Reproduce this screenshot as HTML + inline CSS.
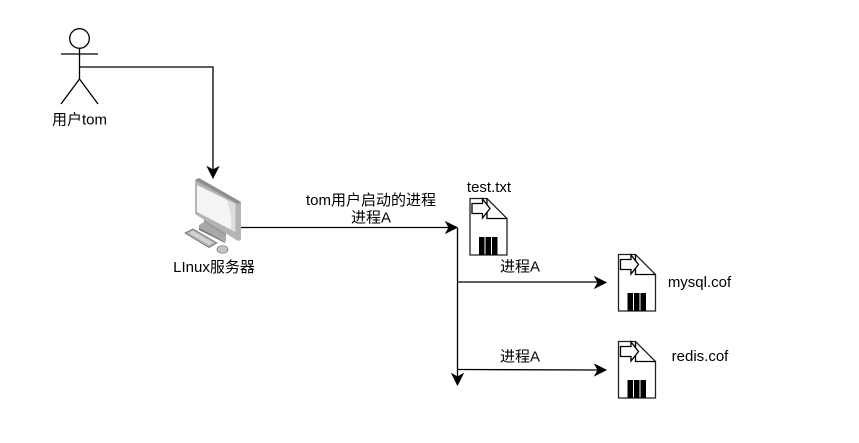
<!DOCTYPE html>
<html>
<head>
<meta charset="utf-8">
<style>
html,body{margin:0;padding:0;background:#fff;width:859px;height:443px;overflow:hidden}
svg{display:block}
text{font-family:"Liberation Sans","Noto Sans CJK SC",sans-serif;font-size:15px;fill:#000;text-anchor:middle}
</style>
</head>
<body>
<svg width="859" height="443" viewBox="0 0 859 443" xmlns="http://www.w3.org/2000/svg">
<defs>
<g id="doc" fill="none" stroke="#000" stroke-width="1.3">
  <path d="M0.5 0.5H17.5L37.5 20.5V57H0.5Z" fill="#fff" stroke="#222"/>
  <path d="M17.5 0.5V20.5H37.5"/>
  <path d="M2.5 5.5H13V1L20.5 10.5L13 20V15.5H2.5Z" fill="#fff"/>
  <rect x="9.5" y="39" width="5.5" height="18" fill="#000" stroke="none"/>
  <rect x="16" y="39" width="5.5" height="18" fill="#000" stroke="none"/>
  <rect x="22.5" y="39" width="5.5" height="18" fill="#000" stroke="none"/>
</g>
</defs>

<!-- actor -->
<g fill="none" stroke="#000" stroke-width="1.3">
  <circle cx="79.5" cy="38.5" r="9.8"/>
  <path d="M79.5 48.5V79.5M61 54H98M79.5 79L61 104M79.5 79L98 104"/>
</g>
<text x="79.5" y="124.5">用户tom</text>

<!-- connector actor to computer -->
<path d="M79.5 67H213V170" fill="none" stroke="#000" stroke-width="1.3"/>
<path d="M213 178L207.5 167L213 170L218.500 167Z" fill="#000" stroke="#000"/>

<!-- computer -->
<path d="M204 218L226 231V240L204 227Z" fill="#9c9c9c"/>
<path d="M199 225L204 222L226 236V241.500L199 229Z" fill="#a8a8a8"/>
<path d="M199 228L225 241.500L225 243L199 230Z" fill="#7a7a7a"/>
<path d="M195 180L199 178L241 202V240L238 241L195 214Z" fill="#b4b4b4"/>
<path d="M195 180L199 178L241 202L238 204Z" fill="#8e8e8e"/>
<path d="M197 185L235.500 204V232L197 212Z" fill="#f5f5f5"/>
<path d="M226 199.500L235.500 204V232L231 230C232 219 230 208 226 199.500Z" fill="#dedede"/>
<path d="M185 233L193 229L217 243L209 247.500Z" fill="#b2b2b2" stroke="#6f6f6f" stroke-width="0.8"/>
<path d="M189 233L193 231L213 242.500L209 245Z" fill="#d2d2d2"/>
<ellipse cx="222.500" cy="249.500" rx="5.500" ry="3.800" fill="#c4c4c4" stroke="#777" stroke-width="0.7"/>
<text x="214" y="272">LInux服务器</text>

<!-- main connector -->
<path d="M241 227.500H449" fill="none" stroke="#000" stroke-width="1.300"/>
<path d="M457 227.500L446 222L449 227.500L446 233Z" fill="#000" stroke="#000"/>
<text x="371" y="205">tom用户启动的进程</text>
<text x="371" y="222.500">进程A</text>

<!-- vertical -->
<path d="M457.500 228V377" fill="none" stroke="#000" stroke-width="1.300"/>
<path d="M457.500 385L452 374L457.500 377L463 374Z" fill="#000" stroke="#000"/>

<!-- branches -->
<path d="M457.500 282H598" fill="none" stroke="#000" stroke-width="1.300"/>
<path d="M606 282.500L595 277L598 282.500L595 288Z" fill="#000" stroke="#000"/>
<text x="520" y="271.500">进程A</text>
<path d="M457.500 369.500L598 370" fill="none" stroke="#000" stroke-width="1.300"/>
<path d="M606 370L595 364.500L598 370L595 375.500Z" fill="#000" stroke="#000"/>
<text x="520" y="361.500">进程A</text>

<!-- documents -->
<use href="#doc" x="469.500" y="198"/>
<use href="#doc" x="618" y="254"/>
<use href="#doc" x="618" y="341"/>
<text x="489" y="192">test.txt</text>
<text x="699.500" y="287">mysql.cof</text>
<text x="700" y="361">redis.cof</text>
</svg>
</body>
</html>
